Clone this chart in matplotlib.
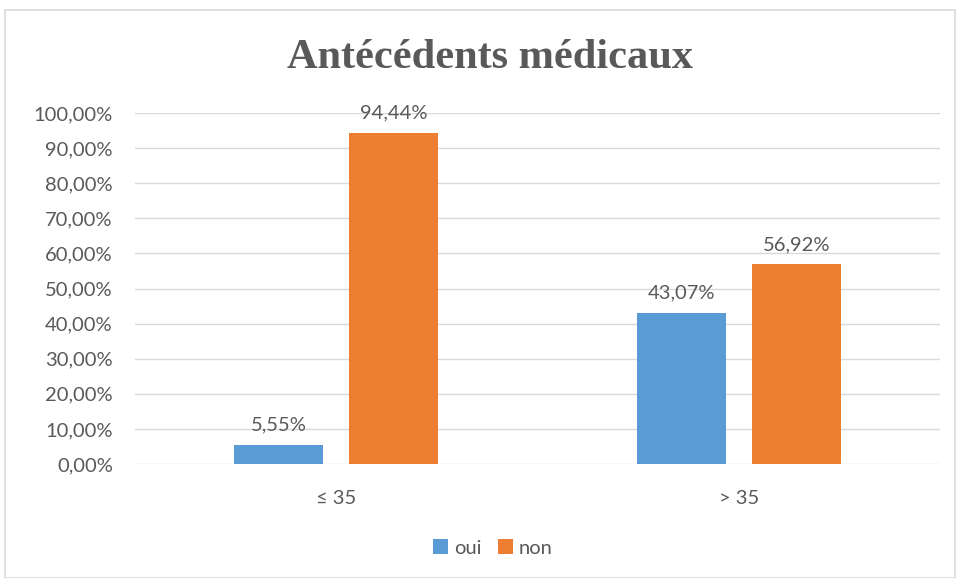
import matplotlib.pyplot as plt
import numpy as np
from matplotlib.patches import Rectangle
from matplotlib.ticker import FuncFormatter

plt.rcParams['font.family'] = ['Lato', 'DejaVu Sans']

categories = ['≤ 35', '> 35']
oui = [5.55, 43.07]
non = [94.44, 56.92]
series_names = ['oui', 'non']

blue = '#5B9BD5'
orange = '#ED7D31'
grey = '#595959'

fig = plt.figure(figsize=(9.57, 5.78), dpi=100)
ax = fig.add_axes([135 / 957, 1 - 464 / 578, 805 / 957, 351 / 578])

x = np.arange(len(categories))
w = 0.221
off = 0.143
b1 = ax.bar(x - off, oui, w, color=blue, label=series_names[0])
b2 = ax.bar(x + off, non, w, color=orange, label=series_names[1])

for bars, vals in [(b1, oui), (b2, non)]:
    for rect, v in zip(bars, vals):
        ax.annotate(f'{v:.2f}%'.replace('.', ','),
                    (rect.get_x() + rect.get_width() / 2, v),
                    xytext=(0, 8), textcoords='offset points',
                    ha='center', va='bottom', fontsize=14.5, color=grey)

ax.set_xlim(-0.5, 1.5)
ax.set_ylim(0, 100)
ax.set_yticks(np.arange(0, 101, 10))
ax.yaxis.set_major_formatter(FuncFormatter(lambda v, p: f'{v:.2f}%'.replace('.', ',')))
ax.set_xticks(x)
ax.set_xticklabels(categories)
ax.tick_params(axis='both', length=0, labelsize=14.5, labelcolor=grey)
ax.tick_params(axis='y', pad=16)
ax.tick_params(axis='x', pad=19)
ax.grid(axis='y', color='#D9D9D9', linewidth=1)
ax.set_axisbelow(True)
for s in ax.spines.values():
    s.set_visible(False)

fig.text(490 / 957, 1 - 58 / 578, 'Antécédents médicaux', ha='center', va='center',
         fontsize=30.5, fontweight='bold', color=grey, family='Liberation Serif')

fig.legend(loc='center', bbox_to_anchor=(493 / 957, 1 - 548 / 578), ncol=2, frameon=False,
           fontsize=14.5, labelcolor=grey, handlelength=0.75, handleheight=0.75,
           handletextpad=0.3, columnspacing=0.8)

fig.patches.append(Rectangle((5 / 957, 0), 950 / 957, 1 - 10 / 578, transform=fig.transFigure,
                             fill=False, edgecolor='#D9D9D9', linewidth=1.2))

fig.savefig('out.png', dpi=100)
